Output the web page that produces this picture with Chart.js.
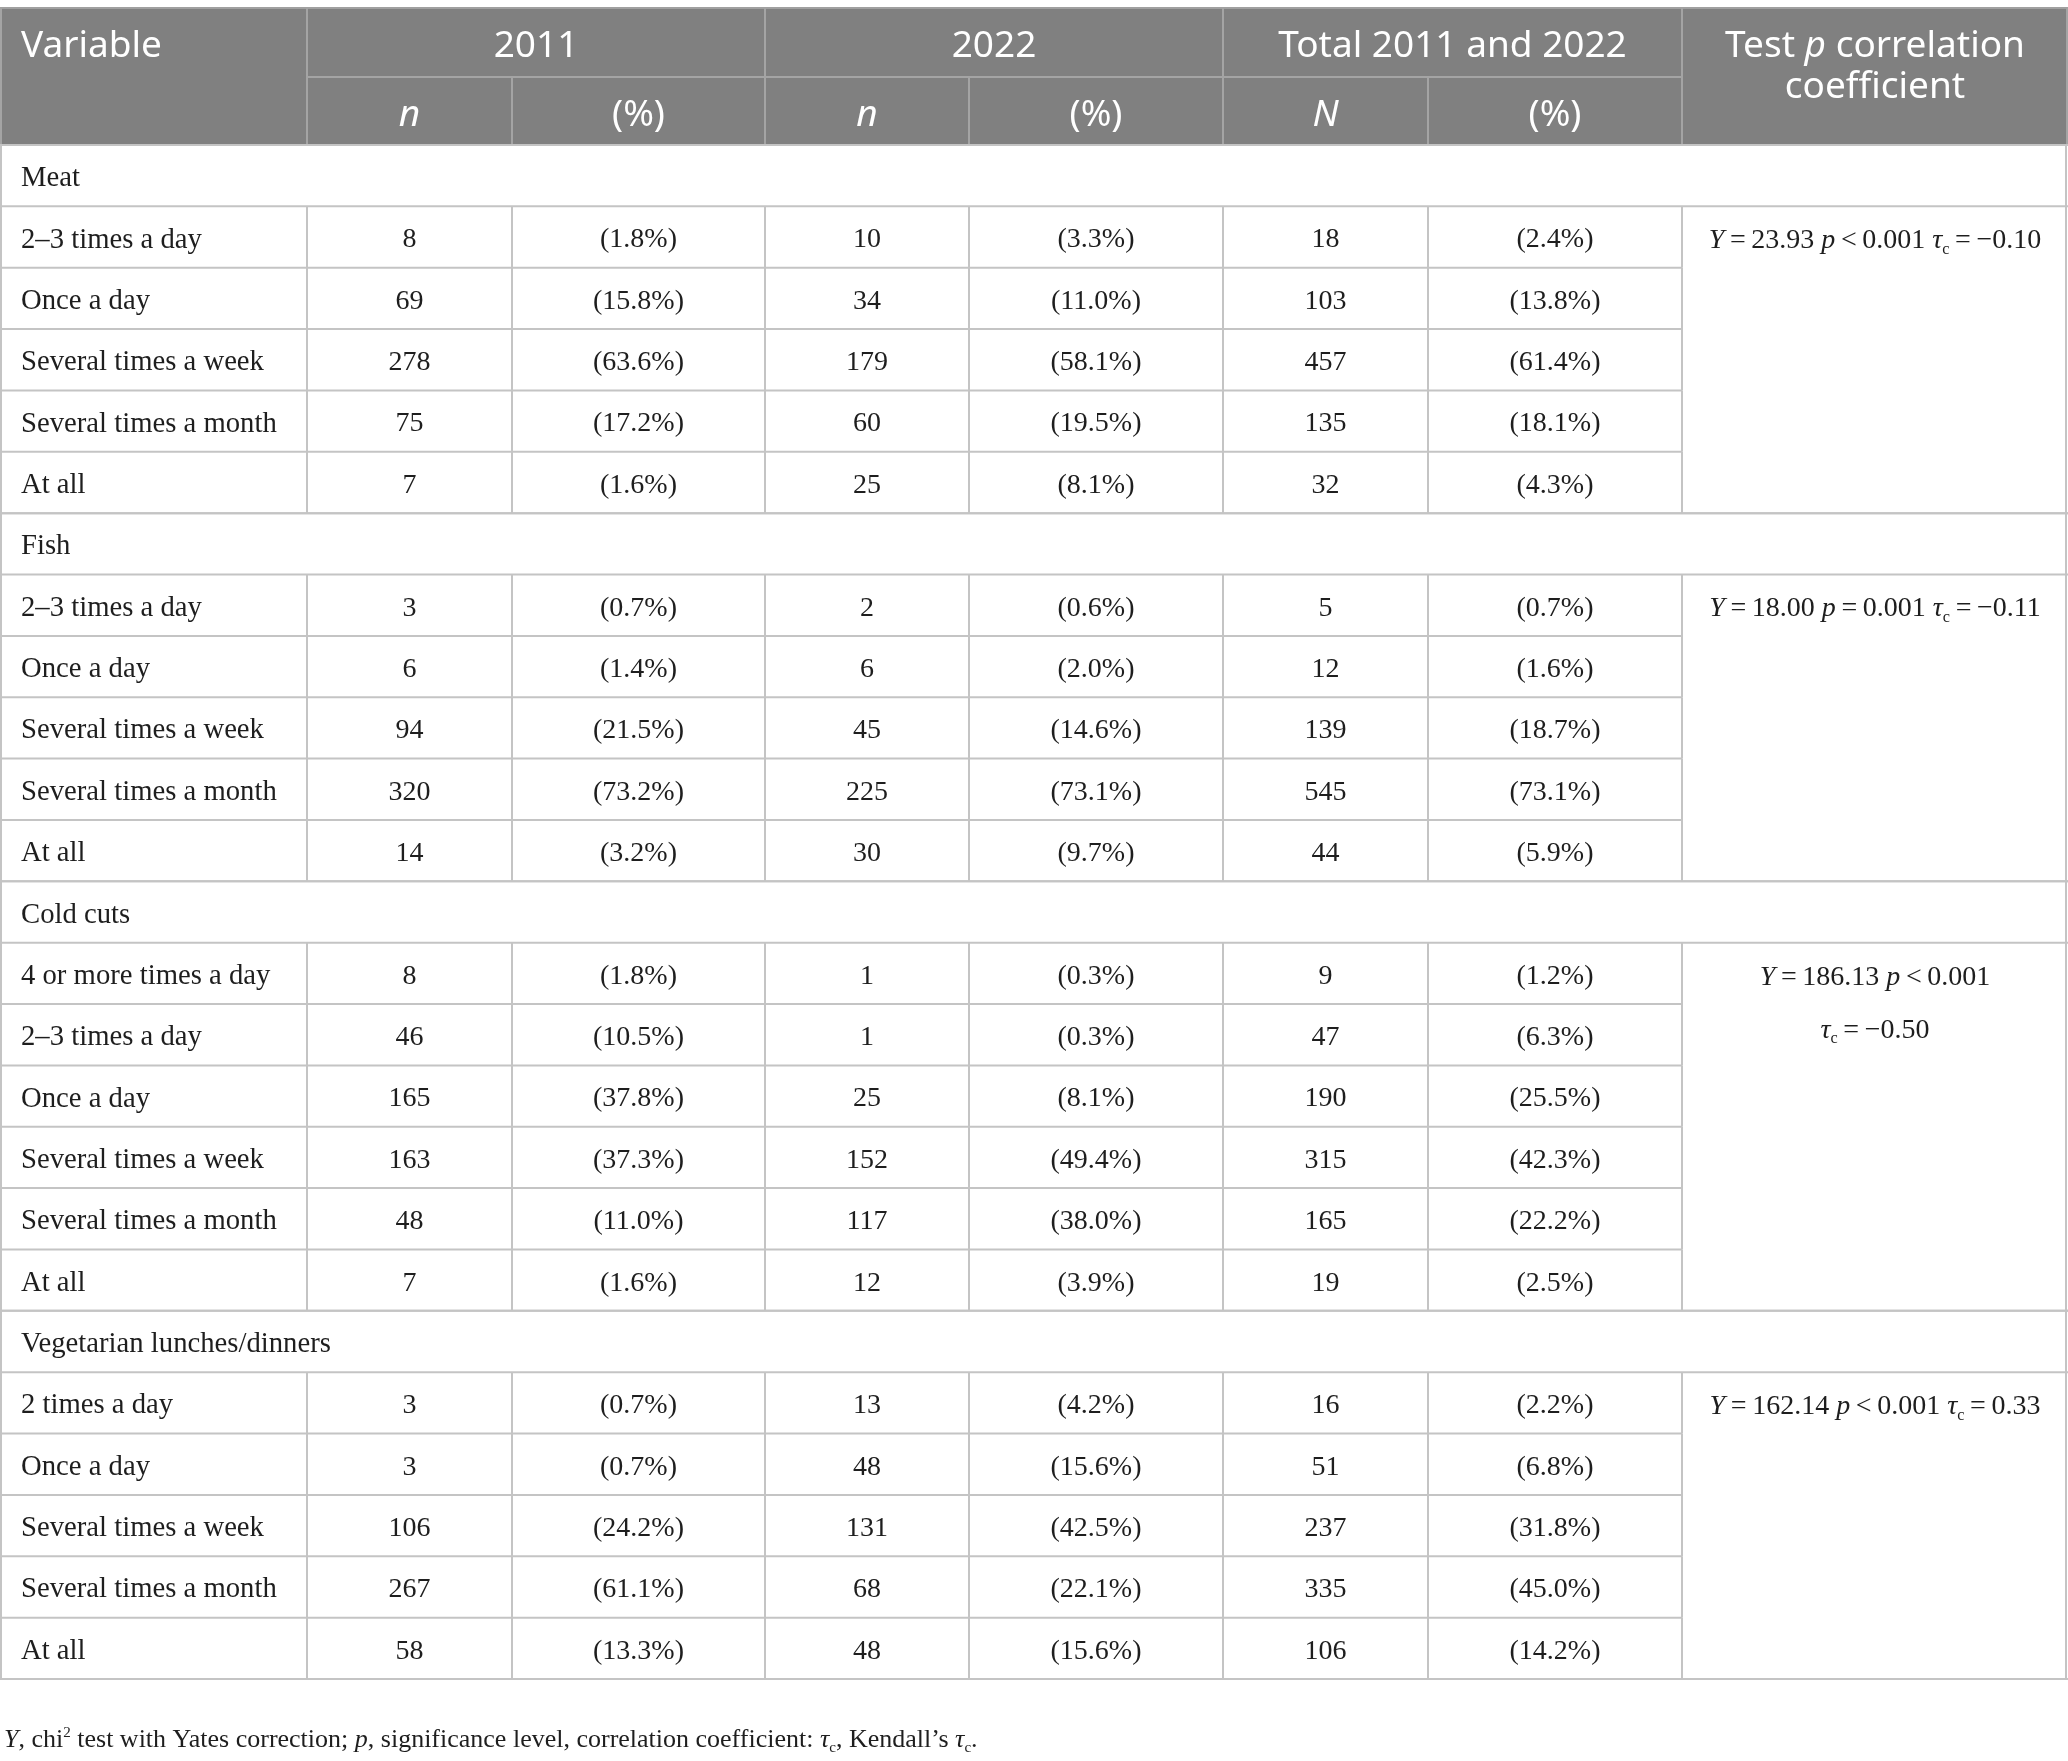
<!DOCTYPE html>
<html lang="en">
<head>
<meta charset="UTF-8">
<title>Meat, fish, cold cuts and vegetarian meals: 2011 vs 2022</title>
<script src="https://cdn.jsdelivr.net/npm/chart.js"></script>
<style>
  html, body { margin: 0; padding: 0; background: #fff; }
  #wrap { width: 2068px; height: 1761px; }
</style>
</head>
<body>
<div id="wrap"><canvas id="tableChart"></canvas></div>
<script>
// groups and frequency categories
var groups = ['Meat', 'Fish', 'Cold cuts', 'Vegetarian lunches/dinners'];
var freqLabels = [
  ['2\u20133 times a day', 'Once a day', 'Several times a week', 'Several times a month', 'At all'],
  ['2\u20133 times a day', 'Once a day', 'Several times a week', 'Several times a month', 'At all'],
  ['4 or more times a day', '2\u20133 times a day', 'Once a day', 'Several times a week', 'Several times a month', 'At all'],
  ['2 times a day', 'Once a day', 'Several times a week', 'Several times a month', 'At all']
];

// counts and percentages, one inner list per group
var n2011 = [[8, 69, 278, 75, 7], [3, 6, 94, 320, 14], [8, 46, 165, 163, 48, 7], [3, 3, 106, 267, 58]];
var pct2011 = [[1.8, 15.8, 63.6, 17.2, 1.6], [0.7, 1.4, 21.5, 73.2, 3.2], [1.8, 10.5, 37.8, 37.3, 11.0, 1.6], [0.7, 0.7, 24.2, 61.1, 13.3]];
var n2022 = [[10, 34, 179, 60, 25], [2, 6, 45, 225, 30], [1, 1, 25, 152, 117, 12], [13, 48, 131, 68, 48]];
var pct2022 = [[3.3, 11.0, 58.1, 19.5, 8.1], [0.6, 2.0, 14.6, 73.1, 9.7], [0.3, 0.3, 8.1, 49.4, 38.0, 3.9], [4.2, 15.6, 42.5, 22.1, 15.6]];
var nTotal = [[18, 103, 457, 135, 32], [5, 12, 139, 545, 44], [9, 47, 190, 315, 165, 19], [16, 51, 237, 335, 106]];
var pctTotal = [[2.4, 13.8, 61.4, 18.1, 4.3], [0.7, 1.6, 18.7, 73.1, 5.9], [1.2, 6.3, 25.5, 42.3, 22.2, 2.5], [2.2, 6.8, 31.8, 45.0, 14.2]];

// test results per group
var testY = [23.93, 18.00, 186.13, 162.14];
var testPSign = ['<', '=', '<', '<'];
var testP = [0.001, 0.001, 0.001, 0.001];
var testTau = [-0.10, -0.11, -0.50, 0.33];

// header labels
var headTop1 = ['Variable', '2011', '2022', 'Total 2011 and 2022'];
var headSub = ['n', '(%)', 'n', '(%)', 'N', '(%)'];

// layout, in table units (same as pixels of the picture)
var colEdges = [0, 307, 512, 765, 969, 1223, 1428, 1682, 2068];
var headTop = 8, headMid = 77, headBottom = 145, rowH = 61.36;
var bodyFont = '"Liberation Serif", "DejaVu Serif", serif';
var headFont = '"Noto Sans", "DejaVu Sans", sans-serif';
var bodySize = 28, labelSize = 28.7, headSize = 37, noteSize = 26;

// flat row list
var rows = [];
groups.forEach(function(g, gi) {
  rows.push({ kind: 'group', g: gi });
  freqLabels[gi].forEach(function(lab, i) { rows.push({ kind: 'item', g: gi, i: i }); });
});
function rowTop(r) { return headBottom + r * rowH; }
function colMid(c) { return (colEdges[c] + colEdges[c + 1]) / 2; }

// one invisible point dataset per value column, the plugin writes the text at the points
var valueCols = [n2011, pct2011, n2022, pct2022, nTotal, pctTotal];
var datasets = valueCols.map(function(arr, c) {
  var pts = [], labels = [];
  rows.forEach(function(row, r) {
    if (row.kind !== 'item') return;
    var v = arr[row.g][row.i];
    pts.push({ x: colMid(c + 1), y: rowTop(r) + rowH / 2 });
    labels.push(c % 2 === 1 ? '(' + v.toFixed(1) + '%)' : String(v));
  });
  return { data: pts, cellText: labels, pointRadius: 0, pointHoverRadius: 0 };
});

function tauText(v) { return (v < 0 ? '\u2212' : '') + Math.abs(v).toFixed(2); }

// draw text made of plain / italic / sub / sup pieces
function drawRich(ctx, segs, x, y, size, align) {
  var total = 0;
  segs.forEach(function(s) {
    var sz = (s.sub || s.sup) ? size * 0.58 : size;
    s.font = (s.it ? 'italic ' : '') + sz + 'px ' + (s.family || bodyFont);
    ctx.font = s.font;
    s.w = ctx.measureText(s.t).width;
    total += s.w;
  });
  var cx = align === 'center' ? x - total / 2 : x;
  ctx.textAlign = 'left';
  ctx.textBaseline = 'alphabetic';
  var base = y + size * 0.33;
  segs.forEach(function(s) {
    ctx.font = s.font;
    var dy = s.sub ? size * 0.2 : (s.sup ? -size * 0.38 : 0);
    ctx.fillText(s.t, cx, base + dy);
    cx += s.w;
  });
}

var tablePlugin = {
  id: 'tableGrid',
  afterDraw: function(chart) {
    var ctx = chart.ctx, xs = chart.scales.x, ys = chart.scales.y;
    function X(v) { return xs.getPixelForValue(v); }
    function Y(v) { return ys.getPixelForValue(v); }
    function hline(x0, x1, y, col, w) {
      ctx.strokeStyle = col; ctx.lineWidth = w;
      ctx.beginPath(); ctx.moveTo(X(x0), Y(y)); ctx.lineTo(X(x1), Y(y)); ctx.stroke();
    }
    function vline(x, y0, y1, col, w) {
      ctx.strokeStyle = col; ctx.lineWidth = w;
      ctx.beginPath(); ctx.moveTo(X(x), Y(y0)); ctx.lineTo(X(x), Y(y1)); ctx.stroke();
    }
    var W = colEdges[colEdges.length - 1];
    var bodyBottom = rowTop(rows.length);
    ctx.save();

    // header block
    ctx.fillStyle = '#808080';
    ctx.fillRect(X(0), Y(headTop), X(W) - X(0), Y(headBottom) - Y(headTop));
    var hl = '#a4a4a4';
    hline(0, W, headTop, '#a0a0a0', 2);
    hline(colEdges[1], colEdges[7], headMid, hl, 2);
    [1, 3, 5, 7].forEach(function(c) { vline(colEdges[c], headTop, headBottom, hl, 2); });
    [2, 4, 6].forEach(function(c) { vline(colEdges[c], headMid, headBottom, hl, 2); });
    vline(1, headTop, headBottom, hl, 2);
    vline(W - 1, headTop, headBottom, hl, 2);

    ctx.fillStyle = '#ffffff';
    ctx.textBaseline = 'middle';
    ctx.font = headSize + 'px ' + headFont;
    ctx.textAlign = 'left';
    ctx.fillText(headTop1[0], X(21), Y(46));
    ctx.textAlign = 'center';
    ctx.fillText(headTop1[1], X((colEdges[1] + colEdges[3]) / 2), Y(46));
    ctx.fillText(headTop1[2], X((colEdges[3] + colEdges[5]) / 2), Y(46));
    ctx.fillText(headTop1[3], X((colEdges[5] + colEdges[7]) / 2), Y(46));
    headSub.forEach(function(t, k) {
      ctx.font = (t.indexOf('%') < 0 ? 'italic ' : '') + headSize + 'px ' + headFont;
      ctx.fillText(t, X(colMid(k + 1)), Y(115));
    });
    drawRich(ctx, [
      { t: 'Test ', family: headFont },
      { t: 'p', it: true, family: headFont },
      { t: ' correlation', family: headFont }
    ], X(colMid(7)), Y(45), headSize, 'center');
    ctx.font = headSize + 'px ' + headFont;
    ctx.textAlign = 'center';
    ctx.textBaseline = 'middle';
    ctx.fillText('coefficient', X(colMid(7)), Y(87));

    // body grid
    var gl = '#c4c4c4';
    hline(0, W, headBottom, gl, 2);
    rows.forEach(function(row, r) {
      var y0 = rowTop(r), y1 = rowTop(r + 1);
      var last = (r + 1 === rows.length) || rows[r + 1].kind === 'group';
      hline(0, row.kind === 'group' || last ? W : colEdges[7], y1, gl, 2);
      if (row.kind === 'group') {
        hline(0, W, y0, gl, 2);
      } else {
        for (var c = 1; c <= 7; c++) vline(colEdges[c], y0, y1, gl, 2);
      }
    });
    vline(1, headBottom, bodyBottom, gl, 2);
    vline(W - 2, headBottom, bodyBottom, gl, 2);

    // row labels
    ctx.fillStyle = '#1e1e1e';
    ctx.font = labelSize + 'px ' + bodyFont;
    ctx.textAlign = 'left';
    ctx.textBaseline = 'middle';
    rows.forEach(function(row, r) {
      var t = row.kind === 'group' ? groups[row.g] : freqLabels[row.g][row.i];
      ctx.fillText(t, X(21), Y(rowTop(r) + rowH / 2 + 3));
    });

    // values, written at the dataset points
    ctx.font = bodySize + 'px ' + bodyFont;
    ctx.textAlign = 'center';
    chart.data.datasets.forEach(function(ds, di) {
      var meta = chart.getDatasetMeta(di);
      meta.data.forEach(function(pt, k) {
        ctx.fillText(ds.cellText[k], pt.x, pt.y + 3);
      });
    });

    // test column, first item row of each group
    var firstRow = [];
    rows.forEach(function(row, r) { if (row.kind === 'group') firstRow.push(r + 1); });
    groups.forEach(function(g, gi) {
      var cy = rowTop(firstRow[gi]) + rowH / 2 + 2;
      var sp = '\u2009';
      var part1 = [
        { t: 'Y', it: true },
        { t: sp + '=' + sp + testY[gi].toFixed(2) + ' ' },
        { t: 'p', it: true },
        { t: sp + testPSign[gi] + sp + testP[gi].toFixed(3) }
      ];
      var part2 = [
        { t: '\u03c4', it: true },
        { t: 'c', sub: true },
        { t: sp + '=' + sp + tauText(testTau[gi]) }
      ];
      if (testY[gi] > 100 && testTau[gi] < -0.3) {
        drawRich(ctx, part1, X(colMid(7)), Y(cy), bodySize, 'center');
        drawRich(ctx, part2, X(colMid(7)), Y(cy + 53), bodySize, 'center');
      } else {
        part1[3].t += ' ';
        drawRich(ctx, part1.concat(part2), X(colMid(7)), Y(cy), bodySize, 'center');
      }
    });

    // footnote
    drawRich(ctx, [
      { t: 'Y', it: true },
      { t: ', chi' },
      { t: '2', sup: true },
      { t: ' test with Yates correction; ' },
      { t: 'p', it: true },
      { t: ', significance level, correlation coefficient: ' },
      { t: '\u03c4', it: true },
      { t: 'c', sub: true },
      { t: ', Kendall\u2019s ' },
      { t: '\u03c4', it: true },
      { t: 'c', sub: true },
      { t: '.' }
    ], X(4), Y(1738), noteSize, 'left');

    ctx.restore();
  }
};

new Chart('tableChart', {
  type: 'scatter',
  data: { datasets: datasets },
  options: {
    responsive: true,
    maintainAspectRatio: false,
    animation: false,
    events: [],
    layout: { padding: 0 },
    plugins: { legend: { display: false }, tooltip: { enabled: false } },
    scales: {
      x: { type: 'linear', display: false, min: 0, max: 2068 },
      y: { type: 'linear', display: false, min: 0, max: 1761, reverse: true }
    }
  },
  plugins: [tablePlugin]
});
</script>
</body>
</html>
